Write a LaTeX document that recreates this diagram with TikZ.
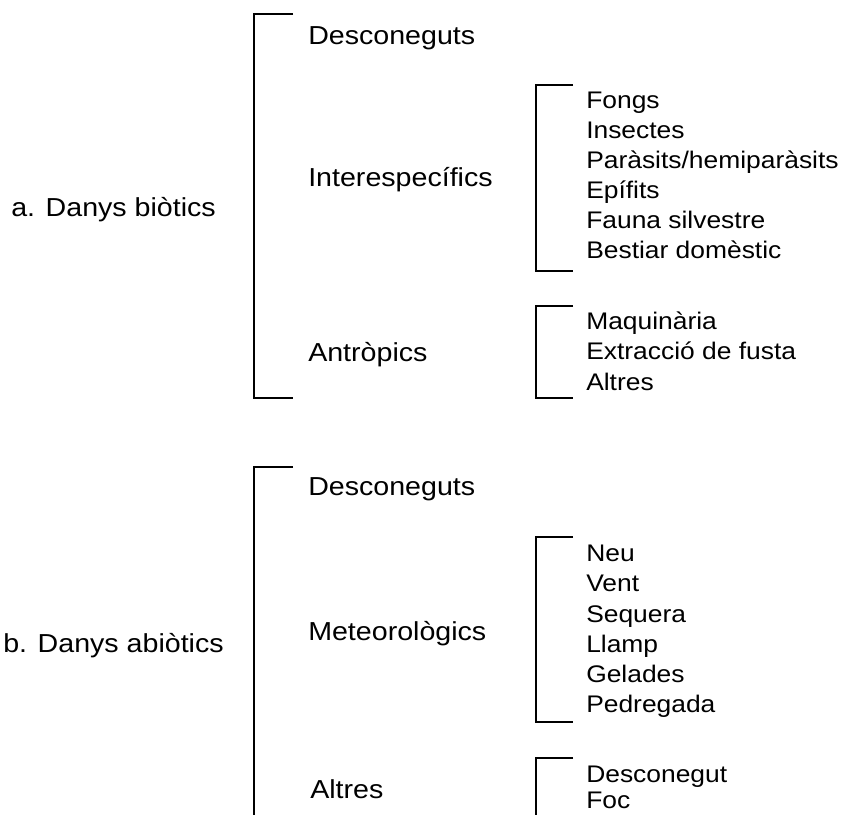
\documentclass[tikz,border=0pt]{standalone}
\usepackage{fontspec}
\setmainfont[FakeStretch=1.1]{Liberation Sans}
\begin{document}
\begin{tikzpicture}[x=0.75pt,y=-0.75pt,
  mainlbl/.style={anchor=base west,inner sep=0pt,font=\fontsize{19.5pt}{23pt}\selectfont},
  sublbl/.style={anchor=base west,inner sep=0pt,font=\fontsize{18pt}{22pt}\selectfont},
  brk/.style={line width=1.5pt,line join=miter}]
\useasboundingbox (0,0) rectangle (845,814);
% ---- a. biotic ----
\node[mainlbl] (a) at (11,216) {a. Danys biòtics};
\node[mainlbl] (a1) at (308,44) {Desconeguts};
\node[mainlbl] (a2) at (308,186) {Interespecífics};
\node[mainlbl] (a3) at (308,361) {Antròpics};
\coordinate (ab1) at (293,14);
\coordinate (ab2) at (293,398);
\draw[brk] (ab1) -- (254,14) -- (254,398) -- (ab2);
\node[sublbl] (i1) at (586,108) {Fongs};
\node[sublbl] (i2) at (586,138) {Insectes};
\node[sublbl] (i3) at (586,168) {Paràsits/hemiparàsits};
\node[sublbl] (i4) at (586,198) {Epífits};
\node[sublbl] (i5) at (586,228) {Fauna silvestre};
\node[sublbl] (i6) at (586,258) {Bestiar domèstic};
\draw[brk] (573,85) -- (536,85) -- (536,271) -- (573,271);
\node[sublbl] (p1) at (586,329) {Maquinària};
\node[sublbl] (p2) at (586,359.5) {Extracció de fusta};
\node[sublbl] (p3) at (586,390) {Altres};
\draw[brk] (573,306) -- (536,306) -- (536,398) -- (573,398);
% ---- b. abiotic ----
\node[mainlbl] (b) at (3,652) {b. Danys abiòtics};
\node[mainlbl] (b1) at (308,495) {Desconeguts};
\node[mainlbl] (b2) at (308,640) {Meteorològics};
\node[mainlbl] (b3) at (310,798) {Altres};
\draw[brk] (293,467) -- (254,467) -- (254,816);
\node[sublbl] (m1) at (586,561) {Neu};
\node[sublbl] (m2) at (586,591.5) {Vent};
\node[sublbl] (m3) at (586,622) {Sequera};
\node[sublbl] (m4) at (586,652) {Llamp};
\node[sublbl] (m5) at (586,682) {Gelades};
\node[sublbl] (m6) at (586,712) {Pedregada};
\draw[brk] (573,537) -- (536,537) -- (536,722) -- (573,722);
\node[sublbl] (o1) at (586,782) {Desconegut};
\node[sublbl] (o2) at (586,808) {Foc};
\draw[brk] (573,758) -- (536,758) -- (536,816);
\end{tikzpicture}
\end{document}
